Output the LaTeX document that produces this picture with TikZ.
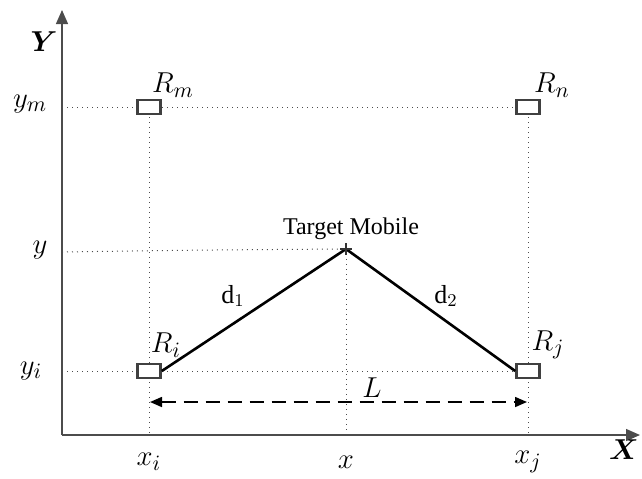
\documentclass[tikz,border=0pt]{standalone}
\usepackage{amsmath, amssymb}
\usepackage{fontspec}
\setmainfont{Liberation Serif}
\usetikzlibrary{arrows.meta}

\tikzset{
  rx/.style={draw=black!75, line width=1.3pt, fill=white, minimum width=11.5pt, minimum height=7pt, inner sep=0pt},
  grid line/.style={dotted, black!70, line width=0.5pt},
  lbl/.style={font=\fontsize{15}{17}\selectfont}
}

\begin{document}
\begin{tikzpicture}[x=0.5pt, y=-0.5pt]
  \useasboundingbox (0,0) rectangle (642,478);
  % axes
  \coordinate (O) at (62,435);
  \draw[-{Triangle[length=7pt,width=6pt]}, black!70, line width=0.7pt] (O) -- (62,10) coordinate (Ytip);
  \draw[-{Triangle[length=7pt,width=6pt]}, black!70, line width=0.7pt] (O) -- (640,435) coordinate (Xtip);
  \node[font=\fontsize{14}{16}\selectfont] at (44,42) {$\boldsymbol{Y}$};
  \node[font=\fontsize{14}{16}\selectfont] at (624,450) {$\boldsymbol{X}$};

  % receivers
  \coordinate (ym) at (62,107);
  \coordinate (yy) at (62,252);
  \coordinate (yi) at (62,371);
  \coordinate (t) at (346,249);
  \coordinate (xi) at (149,435);
  \coordinate (xx) at (346,435);
  \coordinate (xj) at (528,435);
  \draw[grid line] (ym) -- (528,107);
  \draw[grid line] (yi) -- (528,371);
  \draw[grid line] (yy) .. controls (200,250) .. (t);
  \draw[grid line] (149,107) -- (xi);
  \draw[grid line] (528,107) -- (xj);
  \draw[grid line] (t) -- (xx);

  \node[rx] (Rm) at (149,107) {};
  \node[rx] (Rn) at (528,107) {};
  \node[rx] (Ri) at (149,371) {};
  \node[rx] (Rj) at (528,371) {};

  % distances
  \draw[line width=1.3pt] (Ri.east) -- (t) -- (Rj.west);
  \draw[black!80, line width=0.6pt] (t) ++(-6,0) -- ++(12,0) (t) ++(0,-6) -- ++(0,12);
  \node[font=\fontsize{12}{14}\selectfont, anchor=base] (tm) at (351,234) {Target Mobile};
  \node[font=\fontsize{13}{15}\selectfont] at (233,296) {$\mathrm{d}_1$};
  \node[font=\fontsize{13}{15}\selectfont] at (446,296) {$\mathrm{d}_2$};
  \draw[{Triangle[length=6pt,width=5pt]}-{Triangle[length=6pt,width=5pt]}, dashed, dash pattern=on 7pt off 4pt, line width=0.8pt] (150,402) -- (527,402);
  \node[lbl] at (372,388) {$L$};

  % labels
  \node[lbl] at (173,85) {$R_m$};
  \node[lbl] at (552,85) {$R_n$};
  \node[lbl] at (166,345) {$R_i$};
  \node[lbl] at (548,345) {$R_j$};
  \node[lbl] at (30,104) {$y_m$};
  \node[lbl] at (40,250) {$y$};
  \node[lbl] at (31,371) {$y_i$};
  \node[lbl] at (149,462) {$x_i$};
  \node[lbl] at (346,462) {$x$};
  \node[lbl] at (528,462) {$x_j$};
\end{tikzpicture}
\end{document}
